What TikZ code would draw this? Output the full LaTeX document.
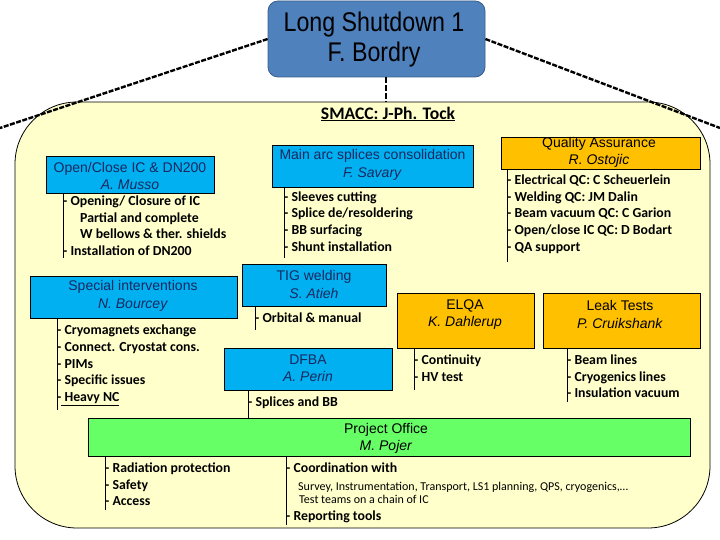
\documentclass[tikz,border=0pt]{standalone}
\usepackage{fontspec}
\usepackage{graphicx}
\setmainfont{Liberation Sans}
\newfontfamily\calfont{Carlito}
\definecolor{cblue}{RGB}{0,176,240}
\definecolor{corange}{RGB}{255,192,0}
\definecolor{cgreen}{RGB}{102,255,102}
\definecolor{bgyellow}{RGB}{255,255,204}
\definecolor{topblue}{RGB}{79,129,189}
\definecolor{topborder}{RGB}{56,93,138}
\definecolor{navy}{RGB}{25,40,95}
\begin{document}
\begin{tikzpicture}[x=1pt,y=-1pt,
  box/.style={draw=black, line width=0.8pt, inner sep=0, rectangle},
  ttl/.style={font=\fontsize{14}{17.5}\selectfont, align=center, inner sep=0},
  item/.style={font=\calfont\bfseries\fontsize{13.8}{16}\selectfont, anchor=base west, inner sep=0},
  smalltxt/.style={font=\calfont\fontsize{12}{13}\selectfont, anchor=base west, inner sep=0},
  lst/.style={line width=0.8pt},
  dashline/.style={line width=2.4pt, dash pattern=on 5pt off 1.5pt}]
\useasboundingbox (0,0) rectangle (720,540);

% background frame
\node[draw=black, line width=0.8pt, fill=bgyellow, rounded corners=62, minimum width=695, minimum height=426, inner sep=0] (bg) at (362.5,315) {};

% top box
\node[box, draw=topborder, fill=topblue, rounded corners=10, minimum width=217, minimum height=76] (top) at (376.5,39) {};
\node[align=center, inner sep=0, font=\fontsize{27}{30}\selectfont] (toptxt) at (374,39.5) {\scalebox{0.86}[1]{Long Shutdown 1}\\\scalebox{0.86}[1]{F. Bordry}};

\coordinate (lend) at (0,128);
\coordinate (rend) at (720,128);
\coordinate (vd) at (386,102);
\draw[dashline] (top.west) -- (lend);
\draw[dashline] (top.east) -- (rend);
\draw[dashline, dash pattern=on 6pt off 2pt] (vd |- top.south) -- (vd);

\node[font=\calfont\bfseries\fontsize{17.6}{20}\selectfont, inner sep=0] (smacc) at (388,114) {\underline{SMACC: J-Ph. Tock}};

% boxes
\node[box, fill=cblue, minimum width=168, minimum height=37] (b1) at (130,174.5) {};
\node[ttl, text=navy] (t1) at (130,176) {Open/Close IC \& DN200\\\textit{A. Musso}};
\node[box, fill=cblue, minimum width=201, minimum height=42] (b2) at (372.5,166) {};
\node[ttl, text=navy] (t2) at (372.5,165) {Main arc splices consolidation\\\textit{F. Savary}};
\node[box, fill=corange, minimum width=199, minimum height=32] (b3) at (600.5,153) {};
\node[ttl] (t3) at (599,152.5) {Quality Assurance\\\textit{R. Ostojic}};
\node[box, fill=cblue, minimum width=207, minimum height=42] (b4) at (133.5,297) {};
\node[ttl, text=navy] (t4) at (133,296) {Special interventions\\\textit{N. Bourcey}};
\node[box, fill=cblue, minimum width=144, minimum height=42] (b5) at (314,285) {};
\node[ttl, text=navy] (t5) at (314,284.5) {TIG welding\\\textit{S. Atieh}};
\node[box, fill=corange, minimum width=137, minimum height=55] (b6) at (465.5,320.5) {};
\node[ttl] (t6) at (465,314.5) {ELQA\\\textit{K. Dahlerup}};
\node[box, fill=corange, minimum width=157, minimum height=55] (b7) at (621.5,320.5) {};
\node[ttl] (t7) at (620,314.5) {Leak Tests\\\textit{P. Cruikshank}};
\node[box, fill=cblue, minimum width=168, minimum height=42] (b8) at (308,369) {};
\node[ttl, text=navy] (t8) at (308,368.5) {DFBA\\\textit{A. Perin}};
\node[box, fill=cgreen, minimum width=602, minimum height=38] (b9) at (389,437) {};
\node[ttl] (t9) at (386,438.5) {Project Office\\\textit{M. Pojer}};

% list 1
\coordinate (e1) at (63,258);
\draw[lst] (e1 |- b1.south) -- (e1);
\node[item] (i11) at (63,205.5) {- Opening/ Closure of IC};
\node[item] (i12) at (80,222.5) {Partial and complete};
\node[item] (i13) at (80,238.5) {W bellows \& ther. shields};
\node[item] (i14) at (63,255.5) {- Installation of DN200};

% list 2
\coordinate (e2) at (284,258);
\draw[lst] (e2 |- b2.south) -- (e2);
\node[item] (i21) at (284,201.5) {- Sleeves cutting};
\node[item] (i22) at (284,217.5) {- Splice de/resoldering};
\node[item] (i23) at (284,234.5) {- BB surfacing};
\node[item] (i24) at (284,251.5) {- Shunt installation};

% list 3
\coordinate (e3) at (507,262);
\draw[lst] (e3 |- b3.south) -- (e3);
\node[item] (i31) at (507,184.5) {- Electrical QC: C Scheuerlein};
\node[item] (i32) at (507,201.5) {- Welding QC: JM Dalin};
\node[item] (i33) at (507,217.5) {- Beam vacuum QC: C Garion};
\node[item] (i34) at (507,234.5) {- Open/close IC QC: D Bodart};
\node[item] (i35) at (507,251.5) {- QA support};

% list 4
\coordinate (e4) at (57,410);
\draw[lst] (e4 |- b4.south) -- (e4);
\node[item] (i41) at (57,334.5) {- Cryomagnets exchange};
\node[item] (i42) at (57,351.5) {- Connect. Cryostat cons.};
\node[item] (i43) at (57,368.5) {- PIMs};
\node[item] (i44) at (57,384.5) {- Specific issues};
\node[item] (i45) at (57,401.5) {-\underline{ Heavy NC}};

% list 5
\coordinate (e5) at (255,330);
\draw[lst] (e5 |- b5.south) -- (e5);
\node[item] (i51) at (255,322.5) {- Orbital \& manual};

% list 6
\coordinate (e6) at (414,390);
\draw[lst] (e6 |- b6.south) -- (e6);
\node[item] (i61) at (414,364.5) {- Continuity};
\node[item] (i62) at (414,381.5) {- HV test};

% list 7
\coordinate (e7) at (567,402);
\draw[lst] (e7 |- b7.south) -- (e7);
\node[item] (i71) at (567,364.5) {- Beam lines};
\node[item] (i72) at (567,381.5) {- Cryogenics lines};
\node[item] (i73) at (567,397.5) {- Insulation vacuum};

% list 8
\coordinate (e8) at (248,390);
\draw[lst] (e8 |- b8.south) -- (e8 |- b9.north);
\node[item] (i81) at (248,406.5) {- Splices and BB};

% list 9a
\coordinate (e9) at (105,510);
\draw[lst] (e9 |- b9.south) -- (e9);
\node[item] (i91) at (105,472.5) {- Radiation protection};
\node[item] (i92) at (105,489.5) {- Safety};
\node[item] (i93) at (105,505.5) {- Access};

% list 9b
\coordinate (e10) at (286,525);
\draw[lst] (e10 |- b9.south) -- (e10);
\node[item] (i101) at (286,472.5) {- Coordination with};
\node[smalltxt] (i102) at (298,490) {Survey, Instrumentation, Transport, LS1 planning, QPS, cryogenics,…};
\node[smalltxt] (i103) at (299,503) {Test teams on a chain of IC};
\node[item] (i104) at (286,520.5) {- Reporting tools};
\end{tikzpicture}
\end{document}
